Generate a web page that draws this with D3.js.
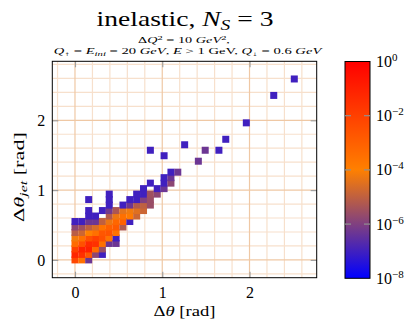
<!DOCTYPE html>
<html>
<head>
<meta charset="utf-8">
<script src="https://cdn.jsdelivr.net/npm/d3@7"></script>
<style>
  body { margin: 0; background: #fff; }
  svg { display: block; }
  text { font-family: "Liberation Serif", serif; }
</style>
</head>
<body>
<svg id="chart" width="411" height="323"></svg>
<script>
// bin width of the histogram (pi/40 rad)
const BIN = Math.PI / 40;

// bin index along dtheta, bin index along dtheta_jet, log10 of the bin content
const binX = [
  0, 0, 0, 0, 0, 0, 0, 0,
  1, 1, 1, 1, 1, 1, 1, 1,
  2, 2, 2, 2, 2, 2, 2, 2, 2, 2, 2,
  3, 3, 3, 3, 3, 3, 3, 3,
  4, 4, 4, 4, 4, 4, 4, 4,
  5, 5, 5, 5, 5, 5, 5, 5, 5, 5,
  6, 6, 6, 6, 6, 6, 6,
  7, 7, 7, 7, 7,
  8, 8, 8, 8, 8,
  9, 9, 9, 9, 9,
  10, 10, 10, 10, 10,
  11, 11, 11, 11, 11,
  12, 12,
  13, 13, 13, 13,
  14, 14, 14,
  15, 16, 18, 19, 21, 22, 25, 29, 32
];
const binY = [
  0, 1, 2, 3, 4, 5, 6, 7,
  0, 1, 2, 3, 4, 5, 6, 7,
  0, 1, 2, 3, 4, 5, 6, 7, 8, 9, 11,
  1, 2, 3, 4, 5, 6, 7, 8,
  1, 2, 3, 4, 5, 6, 7, 9,
  3, 4, 5, 6, 7, 8, 9, 10, 11, 12,
  3, 4, 5, 6, 7, 8, 9,
  6, 7, 8, 9, 10,
  7, 8, 9, 10, 11,
  8, 9, 10, 11, 12,
  9, 10, 11, 12, 13,
  10, 11, 12, 14, 20,
  12, 13,
  13, 14, 15, 19,
  14, 15, 16,
  16, 21, 18, 20, 20, 22, 25, 30, 33
];
const logP = [
  -2.2, -1.2, -2.0, -3.3, -4.2, -5.1, -5.8, -7,
  -3.5, -1.5, -1.0, -2.5, -3.5, -4.8, -5.5, -7,
  -6.3, -2.7, -1.0, -1.3, -2.5, -4.0, -5.0, -6.3, -7, -7, -7,
  -5.8, -3.3, -1.5, -2.0, -3.5, -4.6, -6.3, -7,
  -7, -5.6, -3.5, -2.5, -2.7, -3.6, -5.0, -7,
  -6.3, -3.6, -2.6, -3.0, -4.3, -5.2, -6.2, -7, -7, -7,
  -6.3, -7, -3.6, -2.8, -3.2, -4.3, -5.3,
  -5.2, -3.0, -3.5, -4.4, -7,
  -7, -3.8, -4.2, -6.3, -7,
  -4.8, -4.5, -5.2, -7, -7,
  -4.8, -5.0, -6.0, -7, -7,
  -5.6, -5.6, -5.5, -7, -7,
  -5.8, -7,
  -6.3, -7, -7, -7,
  -5.8, -6.3, -7,
  -6.3, -7, -6.3, -6.3, -7, -7, -7, -7, -7
];

const xTicks = [0, 1, 2];
const yTicks = [0, 1, 2];
const cbTicks = [0, -2, -4, -6, -8];

const svg = d3.select("#chart");
const plot = { left: 52.3, right: 316.7, top: 61.3, bottom: 277.7 };

const x = d3.scaleLinear().domain([-0.26, 2.77]).range([plot.left, plot.right]);
const y = d3.scaleLinear().domain([-0.255, 2.845]).range([plot.bottom, plot.top]);
const color = d3.scaleLinear()
  .domain([-8, -4, 0])
  .range(["#0000ff", "#ff8000", "#ff0000"])
  .clamp(true);

// place a centred text and stretch it horizontally to a target width
// (the TeX fonts of the original are wider than Times)
function placeFit(sel, target, cx, cy, rot) {
  const w = sel.node().getComputedTextLength();
  const k = target / w;
  sel.attr("x", 0).attr("y", 0).attr("text-anchor", "middle")
    .attr("transform", `translate(${cx},${cy})${rot ? ` rotate(${rot})` : ""} scale(${k.toFixed(3)},1)`);
}

// grid, minor first then major on top
const minorX = d3.range(-0.2, 2.7, 0.2).filter(v => Math.abs(v - Math.round(v)) > 1e-6);
const minorY = d3.range(-0.2, 2.9, 0.2).filter(v => Math.abs(v - Math.round(v)) > 1e-6);
const grid = svg.append("g");
grid.selectAll(".mx").data(minorX).join("line")
  .attr("x1", d => x(d)).attr("x2", d => x(d))
  .attr("y1", plot.top).attr("y2", plot.bottom)
  .attr("stroke", "#f7e0cc").attr("stroke-width", 1.2);
grid.selectAll(".my").data(minorY).join("line")
  .attr("y1", d => y(d)).attr("y2", d => y(d))
  .attr("x1", plot.left).attr("x2", plot.right)
  .attr("stroke", "#f7e0cc").attr("stroke-width", 1.2);
grid.selectAll(".Mx").data(xTicks).join("line")
  .attr("x1", d => x(d)).attr("x2", d => x(d))
  .attr("y1", plot.top).attr("y2", plot.bottom)
  .attr("stroke", "#efc8a4").attr("stroke-width", 1.2);
grid.selectAll(".My").data(yTicks).join("line")
  .attr("y1", d => y(d)).attr("y2", d => y(d))
  .attr("x1", plot.left).attr("x2", plot.right)
  .attr("stroke", "#efc8a4").attr("stroke-width", 1.2);

// histogram cells as square markers
const cells = binX.map((bx, k) => ({ dx: bx * BIN, dy: binY[k] * BIN, v: logP[k] }));
const M = 7;
svg.append("g").selectAll("rect").data(cells).join("rect")
  .attr("x", d => x(d.dx) - M / 2)
  .attr("y", d => y(d.dy) - M / 2)
  .attr("width", M).attr("height", M)
  .attr("fill", d => color(d.v));

// axes: ticks pointing inwards on all four sides
function styleAxis(g) {
  g.attr("font-family", "Liberation Serif").attr("font-size", 16);
  g.select(".domain").remove();
  g.selectAll(".tick line").attr("stroke", "#a0a0a0").attr("stroke-width", 1.2);
  g.selectAll(".tick text").attr("fill", "#000");
}
svg.append("g").attr("transform", `translate(0,${plot.bottom})`)
  .call(d3.axisBottom(x).tickValues(xTicks).tickSizeInner(-6).tickSizeOuter(0).tickPadding(9).tickFormat(d3.format("d")))
  .call(styleAxis);
svg.append("g").attr("transform", `translate(0,${plot.top})`)
  .call(d3.axisTop(x).tickValues(xTicks).tickSizeInner(-6).tickSizeOuter(0).tickFormat(""))
  .call(styleAxis);
svg.append("g").attr("transform", `translate(${plot.left},0)`)
  .call(d3.axisLeft(y).tickValues(yTicks).tickSizeInner(-6).tickSizeOuter(0).tickPadding(7).tickFormat(d3.format("d")))
  .call(styleAxis);
svg.append("g").attr("transform", `translate(${plot.right},0)`)
  .call(d3.axisRight(y).tickValues(yTicks).tickSizeInner(-6).tickSizeOuter(0).tickFormat(""))
  .call(styleAxis);

svg.append("rect")
  .attr("x", plot.left).attr("y", plot.top)
  .attr("width", plot.right - plot.left).attr("height", plot.bottom - plot.top)
  .attr("fill", "none").attr("stroke", "#000").attr("stroke-width", 1);

// axis labels
const xl = svg.append("text").attr("font-size", 15.5);
xl.append("tspan").text("Δ");
xl.append("tspan").attr("font-style", "italic").text("θ");
xl.append("tspan").text(" [rad]");
placeFit(xl, 62, (plot.left + plot.right) / 2, 316);

const yl = svg.append("text").attr("font-size", 15.5);
yl.append("tspan").text("Δ");
yl.append("tspan").attr("font-style", "italic").text("θ");
yl.append("tspan").attr("font-style", "italic").attr("dy", 3).attr("font-size", 11).text("jet");
yl.append("tspan").attr("dy", -3).text(" [rad]");
placeFit(yl, 90, 24, 177, -90);

// title
const t = svg.append("text").attr("font-size", 20.5);
t.append("tspan").text("inelastic, ");
t.append("tspan").attr("font-style", "italic").text("N");
t.append("tspan").attr("font-style", "italic").attr("dy", 4).attr("font-size", 14.5).text("S");
t.append("tspan").attr("dy", -4).text(" = 3");
placeFit(t, 177, 185, 26);

const s1 = svg.append("text").attr("font-size", 7.5);
s1.append("tspan").text("Δ");
s1.append("tspan").attr("font-style", "italic").text("Q");
s1.append("tspan").attr("dy", -3).attr("font-size", 5.5).text("2");
s1.append("tspan").attr("dy", 3).text(" = 10 ");
s1.append("tspan").attr("font-style", "italic").text("GeV");
s1.append("tspan").attr("dy", -3).attr("font-size", 5.5).text("2");
s1.append("tspan").attr("dy", 3).text(",");
placeFit(s1, 92, 184, 43);

const s2 = svg.append("text").attr("font-size", 7.5);
s2.append("tspan").attr("font-style", "italic").text("Q");
s2.append("tspan").attr("dy", 1.5).attr("font-size", 6).text("↑");
s2.append("tspan").attr("dy", -1.5).text(" = ");
s2.append("tspan").attr("font-style", "italic").text("E");
s2.append("tspan").attr("font-style", "italic").attr("dy", 1.5).attr("font-size", 5.5).text("ini");
s2.append("tspan").attr("dy", -1.5).text(" = 20 ");
s2.append("tspan").attr("font-style", "italic").text("GeV");
s2.append("tspan").text(", ");
s2.append("tspan").attr("font-style", "italic").text("E");
s2.append("tspan").text(" > 1 GeV, ");
s2.append("tspan").attr("font-style", "italic").text("Q");
s2.append("tspan").attr("dy", 1.5).attr("font-size", 6).text("↓");
s2.append("tspan").attr("dy", -1.5).text(" = 0.6 ");
s2.append("tspan").attr("font-style", "italic").text("GeV");
placeFit(s2, 268, 187.5, 54);

// colour bar
const cb = { left: 345, right: 370, top: 61.5, bottom: 278.3 };
const cbY = d3.scaleLinear().domain([-8, 0]).range([cb.bottom, cb.top]);
const grad = svg.append("defs").append("linearGradient").attr("id", "cbgrad")
  .attr("x1", 0).attr("y1", 1).attr("x2", 0).attr("y2", 0);
grad.selectAll("stop").data(d3.range(-8, 0.01, 0.5)).join("stop")
  .attr("offset", d => (d + 8) / 8)
  .attr("stop-color", d => color(d));
svg.append("rect")
  .attr("x", cb.left).attr("y", cb.top)
  .attr("width", cb.right - cb.left).attr("height", cb.bottom - cb.top)
  .attr("fill", "url(#cbgrad)").attr("stroke", "#000").attr("stroke-width", 1);

const inner = cbTicks.filter(d => d > -8 && d < 0);
svg.append("g").selectAll("line").data(inner).join("line")
  .attr("x1", cb.left).attr("x2", cb.left + 6)
  .attr("y1", d => cbY(d)).attr("y2", d => cbY(d))
  .attr("stroke", "#909090").attr("stroke-width", 1.2);
svg.append("g").selectAll("line").data(inner).join("line")
  .attr("x1", cb.right - 6).attr("x2", cb.right)
  .attr("y1", d => cbY(d)).attr("y2", d => cbY(d))
  .attr("stroke", "#909090").attr("stroke-width", 1.2);

const cbl = svg.append("g").selectAll("text").data(cbTicks).join("text")
  .attr("x", 376).attr("y", d => cbY(d) + 5.5)
  .attr("font-size", 16);
cbl.append("tspan").text("10");
cbl.append("tspan").attr("dy", -6).attr("font-size", 11)
  .text(d => d === 0 ? "0" : "−" + Math.abs(d));
</script>
</body>
</html>
